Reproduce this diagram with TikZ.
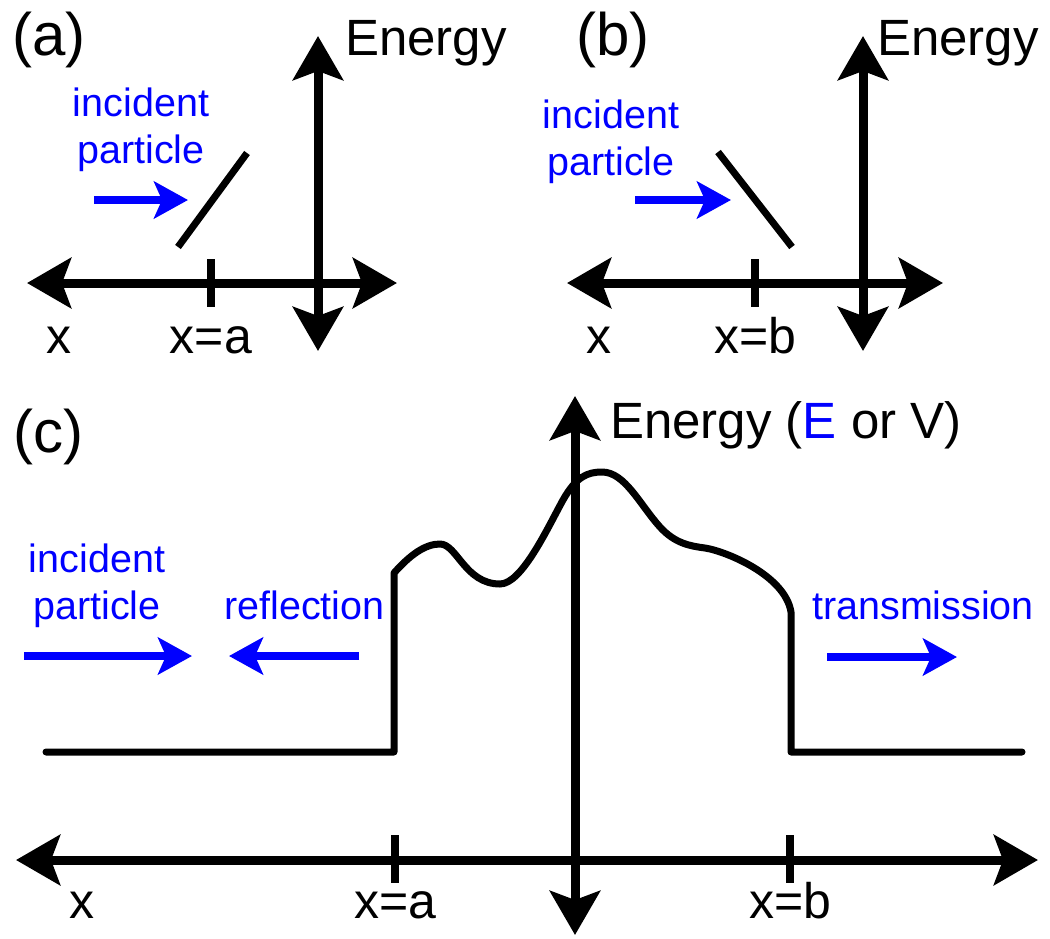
\documentclass[tikz,border=0pt]{standalone}
\usepackage{fontspec}
\setmainfont{Liberation Sans}
\usetikzlibrary{arrows.meta}
\definecolor{pblue}{RGB}{0,0,255}
\tikzset{
  axisline/.style={line width=9pt, arrows={Stealth[length=44pt,width=50pt,inset=9pt]-Stealth[length=44pt,width=50pt,inset=9pt]}},
  tickline/.style={line width=8pt},
  slashline/.style={line width=7pt},
  potline/.style={line width=7pt, line cap=round, line join=round},
  bluearrow/.style={pblue, line width=8pt, arrows={-Stealth[length=34pt,width=37pt,inset=8pt]}},
  biglab/.style={font=\fontsize{51}{51}\selectfont, inner sep=0pt, anchor=base west},
  xlab/.style={font=\fontsize{50}{50}\selectfont, inner sep=0pt, anchor=base},
  panlab/.style={font=\fontsize{60}{60}\selectfont, inner sep=0pt, anchor=base west},
  bluelab/.style={pblue, font=\fontsize{39.5}{39.5}\selectfont, inner sep=0pt, anchor=base},
}
\begin{document}
\begin{tikzpicture}[x=1pt,y=-1pt]
\useasboundingbox (0,0) rectangle (1050,938);

% ---------- panel (a) ----------
\coordinate (aL) at (27,283);
\coordinate (aR) at (397,283);
\coordinate (aT) at (318,36);
\coordinate (aB) at (318,351);
\coordinate (aK1) at (211,259);
\coordinate (aK2) at (211,307);
\coordinate (aS1) at (178,247);
\coordinate (aS2) at (247,153);
\coordinate (aA1) at (94,200);
\coordinate (aA2) at (188,200);
\draw[axisline] (aL) -- (aR);
\draw[axisline] (aB) -- (aT);
\draw[tickline] (aK1) -- (aK2);
\draw[slashline] (aS1) -- (aS2);
\draw[bluearrow] (aA1) -- (aA2);
\node[panlab] (alab) at (12,55) {(a)};
\node[biglab] (aen) at (345,55) {Energy};
\node[xlab] (ax) at (59,353) {x};
\node[xlab] (axa) at (211,353) {x=a};
\node[bluelab] (ainc) at (141,116) {incident};
\node[bluelab] (apar) at (141,163) {particle};

% ---------- panel (b) ----------
\coordinate (bL) at (567,283);
\coordinate (bR) at (943,283);
\coordinate (bT) at (863,36);
\coordinate (bB) at (863,351);
\coordinate (bK1) at (755,259);
\coordinate (bK2) at (755,307);
\coordinate (bS1) at (718,152);
\coordinate (bS2) at (792,247);
\coordinate (bA1) at (635,200);
\coordinate (bA2) at (731,200);
\draw[axisline] (bL) -- (bR);
\draw[axisline] (bB) -- (bT);
\draw[tickline] (bK1) -- (bK2);
\draw[slashline] (bS1) -- (bS2);
\draw[bluearrow] (bA1) -- (bA2);
\node[panlab] (blab) at (576,55) {(b)};
\node[biglab] (ben) at (877,55) {Energy};
\node[xlab] (bx) at (599,353) {x};
\node[xlab] (bxb) at (755,353) {x=b};
\node[bluelab] (binc) at (611,128) {incident};
\node[bluelab] (bpar) at (611,175) {particle};

% ---------- panel (c) ----------
\coordinate (cL) at (16,860);
\coordinate (cR) at (1038,860);
\coordinate (cT) at (575,396);
\coordinate (cB) at (575,935);
\coordinate (cKa1) at (395,835);
\coordinate (cKa2) at (395,883);
\coordinate (cKb1) at (790,835);
\coordinate (cKb2) at (790,883);
\draw[axisline] (cL) -- (cR);
\draw[axisline] (cB) -- (cT);
\draw[tickline] (cKa1) -- (cKa2);
\draw[tickline] (cKb1) -- (cKb2);

% potential
\draw[potline] (46,752) -- (394,752) -- (394,573)
  .. controls (410,555) and (425,544) .. (440,544)
  .. controls (457,544) and (465,584) .. (500,584)
  .. controls (522,584) and (548,527) .. (563,500)
  .. controls (576,477) and (587,472) .. (602,472)
  .. controls (625,472) and (640,505) .. (660,527)
  .. controls (675,543.5) and (690,546) .. (705,548)
  .. controls (725,551) and (785,575) .. (791,612)
  -- (791,752) -- (1022,752);

\coordinate (cA1) at (24,656);
\coordinate (cA2) at (192,656);
\coordinate (cR1) at (359,656);
\coordinate (cR2) at (229,656);
\coordinate (cT1) at (827,657);
\coordinate (cT2) at (957,657);
\draw[bluearrow] (cA1) -- (cA2);
\draw[bluearrow] (cR1) -- (cR2);
\draw[bluearrow] (cT1) -- (cT2);

\node[panlab] (clab) at (13,452) {(c)};
\node[biglab] (cen) at (610,438) {Energy (\textcolor{pblue}{E} or V)};
\node[xlab] (cx) at (82,918) {x};
\node[xlab] (cxa) at (395,918) {x=a};
\node[xlab] (cxb) at (790,918) {x=b};
\node[bluelab] (cinc) at (97,572) {incident};
\node[bluelab] (cpar) at (97,619) {particle};
\node[bluelab, anchor=base west] (cref) at (224,619) {reflection};
\node[bluelab, anchor=base west] (ctra) at (812,619) {transmission};
\end{tikzpicture}
\end{document}
